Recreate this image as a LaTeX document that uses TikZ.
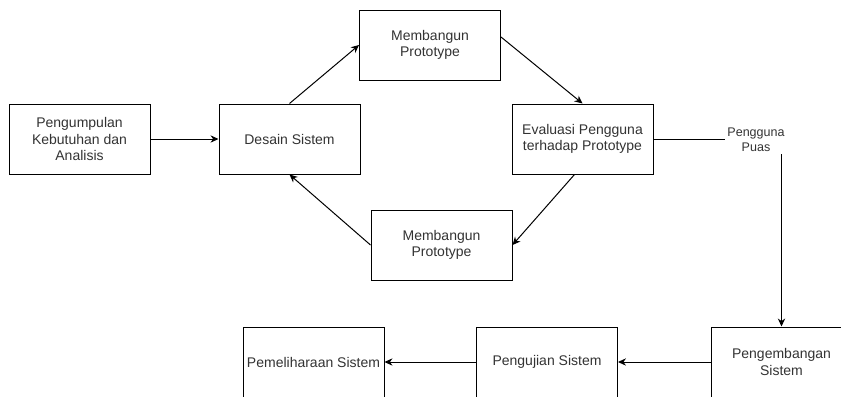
\documentclass[tikz,border=0pt]{standalone}
\usepackage{fontspec}
\setmainfont{Liberation Sans}
\usetikzlibrary{arrows.meta,positioning}
\definecolor{FlowLine}{HTML}{000000}
\definecolor{FlowText}{HTML}{333333}

\begin{document}
\begin{tikzpicture}[
    x=0.75pt, y=-0.75pt,
    tahap/.style={
      draw=FlowLine,
      line width=0.75pt,
      fill=white,
      minimum width=105.75pt,
      minimum height=52.5pt,
      inner sep=0pt,
      align=center,
      text=FlowText,
      font=\fontsize{10.5}{12.4}\selectfont
    },
    panah/.style={-{Stealth[length=6pt,width=5.5pt]},line width=0.75pt,FlowLine}
  ]
    \useasboundingbox (0,0) rectangle (841,396);
    \clip (0,0) rectangle (841,396);

    % siklus prototype
    \node[tahap] (kebutuhan) at (79.5,139) {Pengumpulan\\Kebutuhan dan\\Analisis};
    \node[tahap] (desain) at (289.5,139) {Desain Sistem};
    \node[tahap] (protoatas) at (430,45) {Membangun\\Prototype};
    \node[tahap] (evaluasi) at (582.5,139) {Evaluasi Pengguna\\terhadap Prototype};
    \node[tahap] (protobawah) at (441.5,245) {Membangun\\Prototype};

    % tahap akhir
    \node[tahap] (pengembangan) at (781.5,362) {Pengembangan\\Sistem};
    \node[tahap] (pengujian) at (547,362) {Pengujian Sistem};
    \node[tahap] (pemeliharaan) at (313.5,362) {Pemeliharaan Sistem};

    \draw[panah] (kebutuhan) -- (desain);
    \draw[panah] (desain.north) -- (protoatas.west);
    \draw[panah] ([yshift=6pt]protoatas.east) -- (evaluasi.north);
    \draw[panah] ([xshift=-6pt]evaluasi.south) -- (protobawah.east);
    \draw[panah] (protobawah.west) -- (desain.south);
    \draw[panah] (evaluasi.east) -| (pengembangan.north);
    \node[fill=white,inner sep=2pt,align=center,text=FlowText,
      font=\fontsize{9.4}{11}\selectfont] (puas) at (756,140) {Pengguna\\Puas};
    \draw[panah] (pengembangan) -- (pengujian);
    \draw[panah] (pengujian) -- (pemeliharaan);
  \end{tikzpicture}
\end{document}
